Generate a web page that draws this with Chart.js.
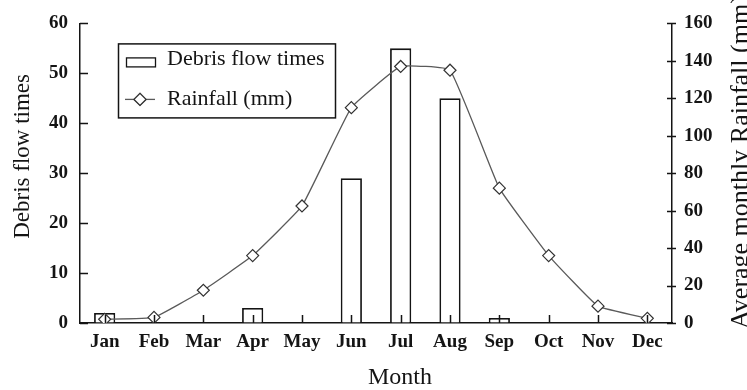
<!DOCTYPE html>
<html>
<head>
<meta charset="utf-8">
<script src="https://cdn.jsdelivr.net/npm/chart.js@4.4.0/dist/chart.umd.min.js"></script>
<style>
    html, body { margin: 0; padding: 0; background: #fff; }
    #wrap { width: 747px; height: 390px; }
</style>
</head>
<body>
<div id="wrap"><canvas id="chart" width="747" height="390"></canvas></div>
<script>
const months = ['Jan', 'Feb', 'Mar', 'Apr', 'May', 'Jun', 'Jul', 'Aug', 'Sep', 'Oct', 'Nov', 'Dec'];
// null = no debris flow that month
const debrisFlowTimes = [2, null, null, 3, null, 29, 55, 45, 1, null, null, null];
const rainfall = [2, 3, 17.5, 36, 62.5, 115, 137, 135, 72, 36, 9, 2.5];
const leftAxis = { min: 0, max: 60, step: 10 };
const rightAxis = { min: 0, max: 160, step: 20 };

const SERIF = "'Liberation Serif', 'Times New Roman', serif";
const INK = '#141414';

// inward tick marks like the original figure
const axisTicks = {
    id: 'axisTicks',
    afterDatasetsDraw(chart) {
        const { ctx, chartArea, scales } = chart;
        ctx.save();
        ctx.strokeStyle = INK;
        ctx.lineWidth = 1.5;
        ctx.beginPath();
        scales.x.ticks.forEach((t, i) => {
            const px = Math.round(scales.x.getPixelForTick(i)) + 0.5;
            ctx.moveTo(px, chartArea.bottom);
            ctx.lineTo(px, chartArea.bottom - 8);
        });
        scales.y.ticks.forEach((t, i) => {
            const py = Math.round(scales.y.getPixelForTick(i)) + 0.5;
            ctx.moveTo(chartArea.left, py);
            ctx.lineTo(chartArea.left + 8, py);
        });
        scales.y1.ticks.forEach((t, i) => {
            const py = Math.round(scales.y1.getPixelForTick(i)) + 0.5;
            ctx.moveTo(chartArea.right - 5, py);
            ctx.lineTo(chartArea.right + 4, py);
        });
        ctx.stroke();
        ctx.restore();
    }
};

// axis titles (right one reads bottom-to-top and runs off the canvas)
const axisTitles = {
    id: 'axisTitles',
    afterDraw(chart) {
        const { ctx, chartArea } = chart;
        ctx.save();
        ctx.fillStyle = INK;

        ctx.font = `23px ${SERIF}`;
        ctx.textAlign = 'center';
        ctx.textBaseline = 'middle';
        ctx.save();
        ctx.translate(23, chartArea.top + 133);
        ctx.rotate(-Math.PI / 2);
        ctx.fillText('Debris flow times', 0, 0);
        ctx.restore();

        ctx.font = `24px ${SERIF}`;
        ctx.fillText('Month', 400, chartArea.bottom + 55);

        ctx.font = `26px ${SERIF}`;
        ctx.textAlign = 'left';
        ctx.textBaseline = 'alphabetic';
        ctx.translate(chart.width + 1, chartArea.bottom + 6);
        ctx.rotate(-Math.PI / 2);
        ctx.fillText('Average monthly Rainfall (mm)', 0, 0);
        ctx.restore();
    }
};

// boxed legend in the upper left of the plot
const boxLegend = {
    id: 'boxLegend',
    afterDraw(chart) {
        const { ctx, chartArea } = chart;
        const [bars, line] = chart.data.datasets;
        const x0 = chartArea.left + 38, y0 = chartArea.top + 20;
        ctx.save();
        ctx.strokeStyle = INK;
        ctx.lineWidth = 1.5;
        ctx.strokeRect(x0 + 0.5, y0 + 0.5, 217, 74);

        ctx.lineWidth = 1.3;
        ctx.fillStyle = '#fff';
        ctx.fillRect(x0 + 8, y0 + 14, 29, 9);
        ctx.strokeRect(x0 + 8.5, y0 + 14.5, 29, 9);

        ctx.strokeStyle = line.borderColor;
        ctx.lineWidth = line.borderWidth;
        ctx.beginPath();
        ctx.moveTo(x0 + 7, y0 + 56);
        ctx.lineTo(x0 + 37, y0 + 56);
        ctx.stroke();
        Chart.helpers.drawPoint(ctx, {
            pointStyle: 'rectRot', radius: line.pointRadius, rotation: 0,
            borderWidth: line.pointBorderWidth
        }, x0 + 22, y0 + 56);
        ctx.fillStyle = '#fff';
        ctx.strokeStyle = line.pointBorderColor;
        ctx.fill();
        ctx.stroke();

        ctx.fillStyle = INK;
        ctx.font = `22px ${SERIF}`;
        ctx.textBaseline = 'middle';
        ctx.fillText(bars.label, x0 + 49, y0 + 16);
        ctx.fillText(line.label, x0 + 49, y0 + 56);
        ctx.restore();
    }
};

const tickFont = { family: SERIF, size: 19, weight: 'bold' };

new Chart(document.getElementById('chart'), {
    type: 'bar',
    data: {
        labels: months,
        datasets: [
            {
                label: 'Debris flow times',
                data: debrisFlowTimes,
                yAxisID: 'y',
                order: 1,
                backgroundColor: '#fff',
                borderColor: INK,
                borderWidth: 1.8,
                borderSkipped: 'start',
                barPercentage: 0.43,
                categoryPercentage: 1
            },
            {
                type: 'line',
                label: 'Rainfall (mm)',
                data: rainfall,
                yAxisID: 'y1',
                order: 0,
                borderColor: '#5a5a5a',
                borderWidth: 1.3,
                tension: 0.1,
                pointStyle: 'rectRot',
                pointRadius: 6,
                pointBorderWidth: 1.2,
                pointBorderColor: '#333',
                pointBackgroundColor: '#fff'
            }
        ]
    },
    options: {
        responsive: false,
        animation: false,
        layout: { padding: { top: 23, left: 0, right: 0, bottom: 0 } },
        plugins: {
            legend: { display: false },
            tooltip: { enabled: false }
        },
        scales: {
            x: {
                grid: { display: true, drawOnChartArea: false, drawTicks: false, offset: false },
                border: { display: true, color: INK, width: 1.5 },
                ticks: { color: INK, font: tickFont, padding: 8, maxRotation: 0 },
                afterFit(s) { s.height = 67; }
            },
            y: {
                position: 'left',
                min: leftAxis.min,
                max: leftAxis.max,
                grid: { display: true, drawOnChartArea: false, drawTicks: false },
                border: { display: true, color: INK, width: 1.5 },
                ticks: { stepSize: leftAxis.step, color: INK, font: tickFont, padding: 12 },
                afterFit(s) { s.width = 80; }
            },
            y1: {
                position: 'right',
                min: rightAxis.min,
                max: rightAxis.max,
                grid: { display: true, drawOnChartArea: false, drawTicks: false },
                border: { display: true, color: INK, width: 1.5 },
                ticks: { stepSize: rightAxis.step, color: INK, font: tickFont, padding: 12 },
                afterFit(s) { s.width = 75; }
            }
        }
    },
    plugins: [axisTicks, axisTitles, boxLegend]
});
</script>
</body>
</html>
